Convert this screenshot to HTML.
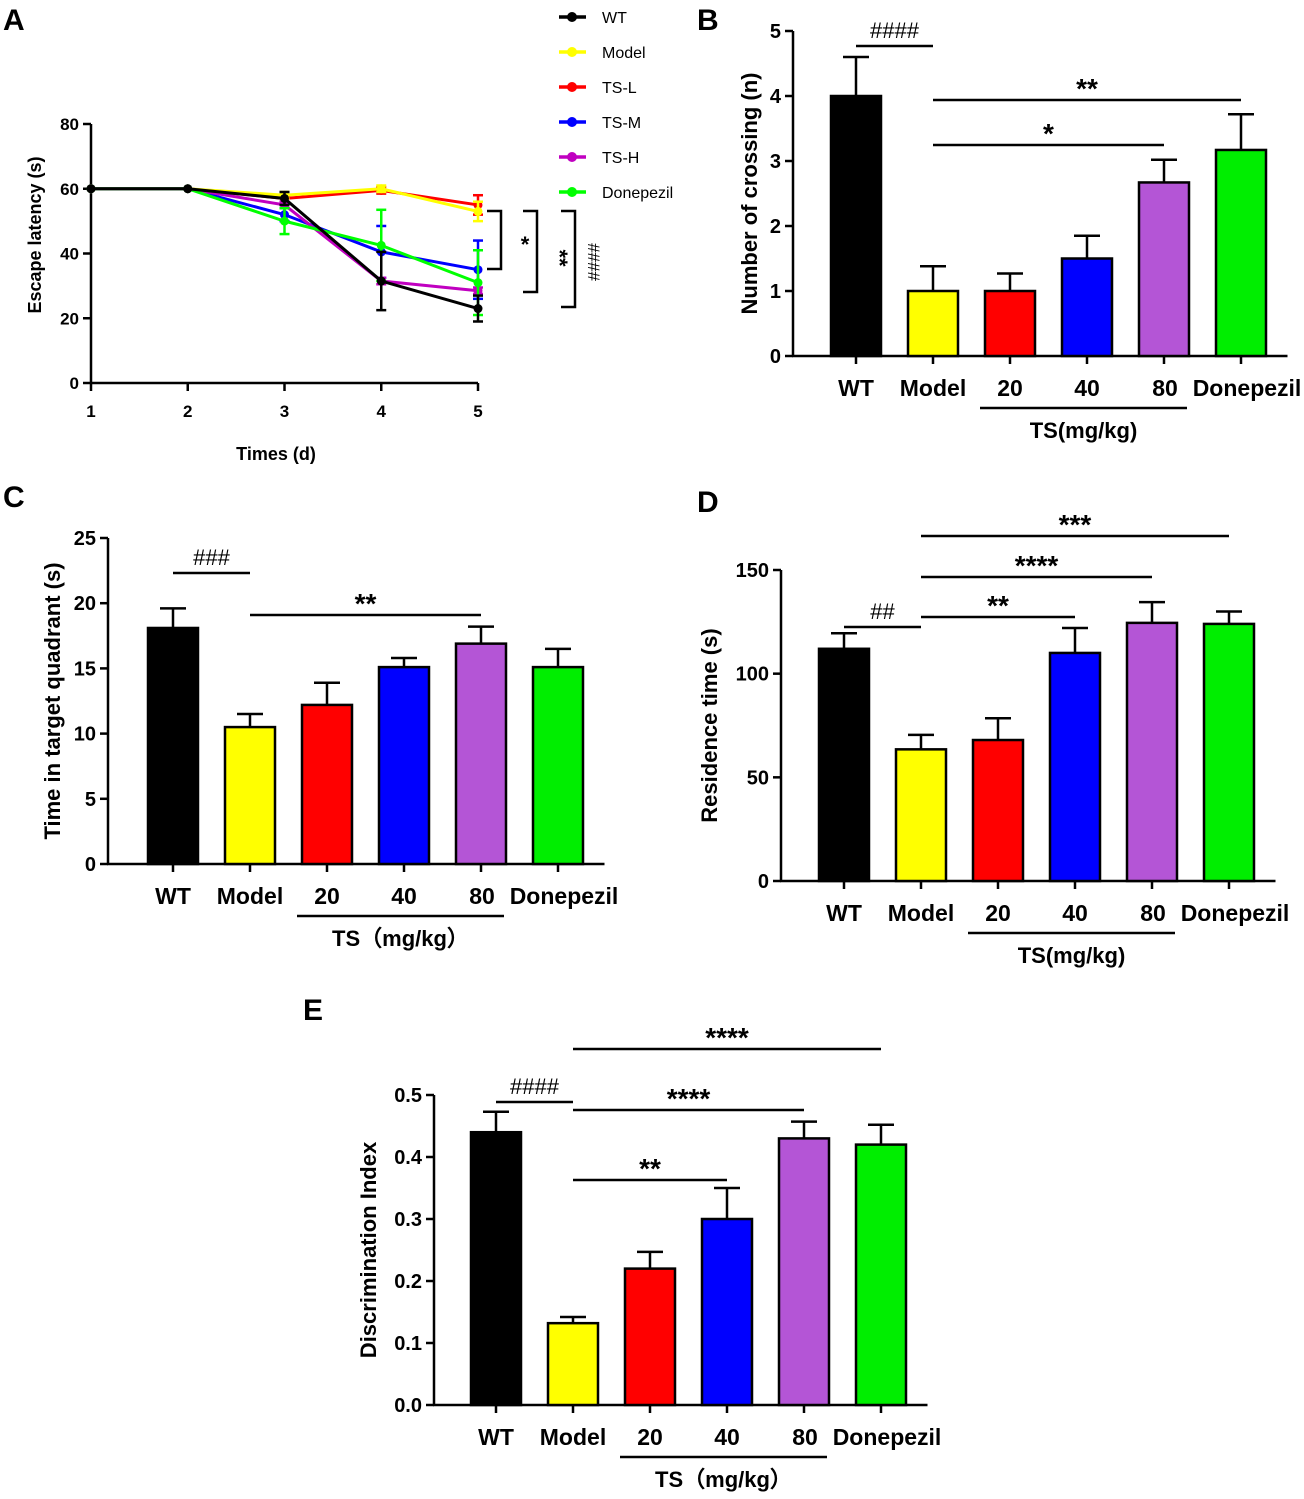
<!DOCTYPE html>
<html><head><meta charset="utf-8"><style>
html,body{margin:0;padding:0;background:#fff;}
svg{display:block;font-family:"Liberation Sans",Arial,sans-serif;}
</style></head><body>
<svg id="fig" width="1304" height="1499" viewBox="0 0 1304 1499" xmlns="http://www.w3.org/2000/svg"></svg>
<script>
// ---------- Panel A data ----------
const aDays = [1,2,3,4,5];
const aSeriesNames = ["WT","Model","TS-L","TS-M","TS-H","Donepezil"];
const aWT = [60,60,57,31.5,23];
const aModel = [60,60,58,60,53];
const aTSL = [60,60,57,59.5,55];
const aTSM = [60,60,52,40.5,35];
const aTSH = [60,60,55,31.5,28.5];
const aDon = [60,60,50,42.5,31];
const aWTerr = [0,0,2,9,4];
const aModelErr = [0,0,1,1,3];
const aTSLerr = [0,0,1,1,3];
const aTSMerr = [0,0,2,8,9];
const aTSHerr = [0,0,1,1,1];
const aDonErr = [0,0,4,11,10];
const aYTicks = [0,20,40,60,80];
// ---------- Bar panels data ----------
const barCats = ["WT","Model","20","40","80","Donepezil"];
const bVals = [4,1,1,1.5,2.67,3.17];
const bErr = [0.6,0.38,0.27,0.35,0.35,0.55];
const bTicks = [0,1,2,3,4,5];
const cVals = [18.1,10.5,12.2,15.1,16.9,15.1];
const cErr = [1.5,1,1.7,0.7,1.3,1.4];
const cTicks = [0,5,10,15,20,25];
const dVals = [112,63.5,68,110,124.5,124];
const dErr = [7.5,7,10.5,12,10,6];
const dTicks = [0,50,100,150];
const eVals = [0.44,0.132,0.22,0.30,0.43,0.42];
const eErr = [0.033,0.01,0.027,0.05,0.027,0.032];
const eTicks = ["0.0","0.1","0.2","0.3","0.4","0.5"];

const NS="http://www.w3.org/2000/svg";
const svg=document.getElementById('fig');
function mk(tag,attrs,parent,text){const e=document.createElementNS(NS,tag);for(const k in attrs)e.setAttribute(k,attrs[k]);if(text!==undefined)e.textContent=text;(parent||svg).appendChild(e);return e;}

// ---------- Panel A ----------
(function(){
 const g=mk('g',{});
 
 
 const x0=91,x1=478,yb=383,yt=124;
 const xs=d=>x0+(d-1)*(x1-x0)/4, ys=v=>yb-v*(yb-yt)/80;
 const L=mk('text',{x:3,y:30,'font-size':30,'font-weight':'bold'},g,'A');
 
 mk('line',{x1:x0,y1:yt,x2:x0,y2:yb,stroke:'#000','stroke-width':2.5},g);
 mk('line',{x1:x0-1,y1:yb,x2:x1,y2:yb,stroke:'#000','stroke-width':2.5},g);
 aYTicks.forEach(t=>{mk('line',{x1:x0-8,y1:ys(t),x2:x0,y2:ys(t),stroke:'#000','stroke-width':2.5},g);
  mk('text',{x:x0-12,y:ys(t)+6,'font-size':17,'font-weight':'bold','text-anchor':'end'},g,t);});
 aDays.forEach(d=>{mk('line',{x1:xs(d),y1:yb,x2:xs(d),y2:yb+8,stroke:'#000','stroke-width':2.5},g);
  mk('text',{x:xs(d),y:yb+34,'font-size':17,'font-weight':'bold','text-anchor':'middle'},g,d);});
 const xt=mk('text',{x:276,y:460,'font-size':18,'font-weight':'bold','text-anchor':'middle'},g,'Times (d)');
 
 const yt2=mk('text',{x:0,y:0,'font-size':18,'font-weight':'bold','text-anchor':'middle',transform:'translate(41,235) rotate(-90)'},g,'Escape latency (s)');
 
 const series=[[aTSL,aTSLerr,'#ff0000'],[aModel,aModelErr,'#ffff00'],[aTSM,aTSMerr,'#0000ff'],[aTSH,aTSHerr,'#c000c0'],[aDon,aDonErr,'#00ff00'],[aWT,aWTerr,'#000']];
 const names=['TS-L','Model','TS-M','TS-H','Donepezil','WT'];
 series.forEach((s,i)=>{
  const sg=mk('g',{},g);
  
  s[0].forEach((v,j)=>{const e=s[1][j];if(e>0){const x=xs(aDays[j]);
   mk('line',{x1:x,y1:ys(v+e),x2:x,y2:ys(v-e),stroke:s[2],'stroke-width':2.5},sg);
   mk('line',{x1:x-5,y1:ys(v+e),x2:x+5,y2:ys(v+e),stroke:s[2],'stroke-width':2.5},sg);
   mk('line',{x1:x-5,y1:ys(v-e),x2:x+5,y2:ys(v-e),stroke:s[2],'stroke-width':2.5},sg);}});
  mk('polyline',{points:s[0].map((v,j)=>xs(aDays[j])+','+ys(v)).join(' '),fill:'none',stroke:s[2],'stroke-width':3},sg);
  s[0].forEach((v,j)=>mk('circle',{cx:xs(aDays[j]),cy:ys(v),r:4.5,fill:s[2]},sg));
 });
 const br=(x,y1,y2)=>mk('polyline',{points:`${x-14},${y1} ${x},${y1} ${x},${y2} ${x-14},${y2}`,fill:'none',stroke:'#000','stroke-width':2.5},g);
 br(501,211,269);br(537,211,292);br(575,211,307);
 mk('text',{x:525,y:252,'font-size':22,'font-weight':'bold','text-anchor':'middle'},g,'*');
 mk('text',{x:0,y:0,'font-size':22,'font-weight':'bold','text-anchor':'middle',transform:'translate(552,258) rotate(90)'},g,'**');
 mk('text',{x:0,y:0,'font-size':17,'text-anchor':'middle',transform:'translate(588,262) rotate(90)'},g,'####');
 const cols=['#000','#ffff00','#ff0000','#0000ff','#c000c0','#00ff00'];
 aSeriesNames.forEach((n,i)=>{const y=17+i*35;const lg=mk('g',{},g);
  
  mk('line',{x1:559,y1:y,x2:586,y2:y,stroke:cols[i],'stroke-width':3.5},lg);
  mk('circle',{cx:572,cy:y,r:5,fill:cols[i]},lg);
  mk('text',{x:602,y:y+6,'font-size':16},lg,n);});
})();

// ---------- Bar panels ----------
const barColors=['#000000','#ffff00','#ff0000','#0000ff','#b455d6','#00ee00'];
function barPanel(o){
 const g=mk('g',{});
 
 
 const ys=v=>o.yb-v*(o.yb-o.yt)/o.max;
 const L=mk('text',{x:o.lx,y:o.ly,'font-size':30,'font-weight':'bold'},g,o.letter);
 
 const xEnd=o.c0+5*o.step+o.step/2+8;
 mk('line',{x1:o.ax,y1:o.yt,x2:o.ax,y2:o.yb,stroke:'#000','stroke-width':2.5},g);
 mk('line',{x1:o.ax-1,y1:o.yb,x2:xEnd,y2:o.yb,stroke:'#000','stroke-width':2.5},g);
 o.ticks.forEach(t=>{const y=ys(parseFloat(t));mk('line',{x1:o.ax-8,y1:y,x2:o.ax,y2:y,stroke:'#000','stroke-width':2.5},g);
  mk('text',{x:o.ax-12,y:y+7,'font-size':20,'font-weight':'bold','text-anchor':'end'},g,t);});
 o.vals.forEach((v,i)=>{const cx=o.c0+i*o.step,w=50;
  const b=mk('rect',{x:cx-w/2,y:ys(v),width:w,height:o.yb-ys(v),fill:barColors[i],stroke:'#000','stroke-width':2.5},g);
  
  const e=o.err[i];
  mk('line',{x1:cx,y1:ys(v),x2:cx,y2:ys(v+e),stroke:'#000','stroke-width':2.5},g);
  mk('line',{x1:cx-13,y1:ys(v+e),x2:cx+13,y2:ys(v+e),stroke:'#000','stroke-width':2.5},g);
  mk('line',{x1:cx,y1:o.yb,x2:cx,y2:o.yb+8,stroke:'#000','stroke-width':2.5},g);
  mk('text',{x:i==4?cx+1:(i==5?cx+6:cx),y:o.yb+40,'font-size':23,'font-weight':'bold','text-anchor':'middle'},g,barCats[i]);
 });
 const u0=o.c0+2*o.step-30,u1=o.c0+4*o.step+23;
 mk('line',{x1:u0,y1:o.yb+52,x2:u1,y2:o.yb+52,stroke:'#000','stroke-width':2.5},g);
 mk('text',{x:(u0+u1)/2,y:o.yb+82,'font-size':22,'font-weight':'bold','text-anchor':'middle'},g,o.ts);
 const yl=mk('text',{x:0,y:0,'font-size':22,'font-weight':'bold','text-anchor':'middle',transform:`translate(${o.ytx},${(o.yt+o.yb)/2}) rotate(-90)`},g,o.ytitle);
 
 o.sig.forEach(s=>{const xa=o.c0+s[0]*o.step,xb=o.c0+s[1]*o.step;
  mk('line',{x1:xa,y1:s[2],x2:xb,y2:s[2],stroke:'#000','stroke-width':2.5},g);
  const hash=s[3][0]=='#';
  mk('text',{x:(xa+xb)/2,y:s[2]-(hash?8:2),'font-size':hash?22:28,'font-weight':hash?'normal':'bold','text-anchor':'middle'},g,s[3]);});
}
barPanel({name:'panel-b-bar-chart',letter:'B',lx:697,ly:30,ax:793,yb:356,yt:31,max:5,ticks:bTicks,vals:bVals,err:bErr,c0:856,step:77,ts:'TS(mg/kg)',ytx:757,ytitle:'Number of crossing (n)',
 sig:[[0,1,46,'####'],[1,5,100,'**'],[1,4,145,'*']]});
barPanel({name:'panel-c-bar-chart',letter:'C',lx:3,ly:507,ax:108,yb:864,yt:538,max:25,ticks:cTicks,vals:cVals,err:cErr,c0:173,step:77,ts:'TS（mg/kg）',ytx:60,ytitle:'Time in target quadrant (s)',
 sig:[[0,1,573,'###'],[1,4,615,'**']]});
barPanel({name:'panel-d-bar-chart',letter:'D',lx:697,ly:512,ax:781,yb:881,yt:570,max:150,ticks:dTicks,vals:dVals,err:dErr,c0:844,step:77,ts:'TS(mg/kg)',ytx:717,ytitle:'Residence time (s)',
 sig:[[0,1,627,'##'],[1,3,617,'**'],[1,4,577,'****'],[1,5,536,'***']]});
barPanel({name:'panel-e-bar-chart',letter:'E',lx:303,ly:1020,ax:434,yb:1405,yt:1095,max:0.5,ticks:eTicks,vals:eVals,err:eErr,c0:496,step:77,ts:'TS（mg/kg）',ytx:376,ytitle:'Discrimination Index',
 sig:[[0,1,1102,'####'],[1,3,1180,'**'],[1,4,1110,'****'],[1,5,1049,'****']]});
</script>
</body></html>
